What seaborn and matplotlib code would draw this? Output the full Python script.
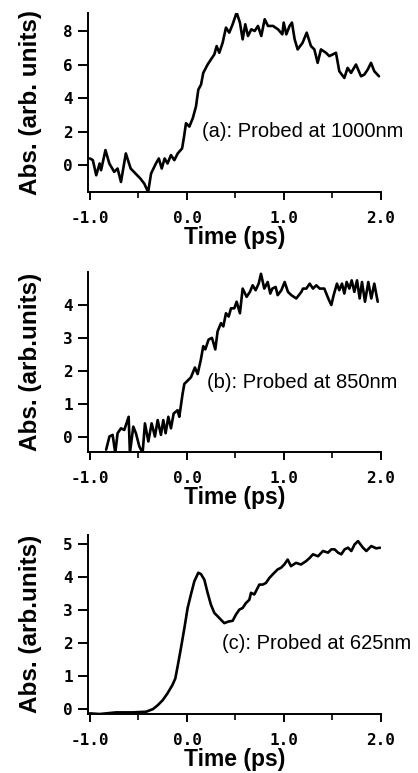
import matplotlib
matplotlib.use("Agg")
import matplotlib.pyplot as plt
import seaborn as sns
from matplotlib.ticker import MultipleLocator, FormatStrFormatter

# panel (a): probed at 1000 nm
time_a = [-1.0, -0.97, -0.935, -0.9, -0.885, -0.84, -0.8, -0.75, -0.715, -0.68,
          -0.63, -0.58, -0.53, -0.48, -0.44, -0.4, -0.37, -0.32, -0.29, -0.26,
          -0.23, -0.2, -0.165, -0.13, -0.095, -0.05, -0.03, -0.01, 0.025, 0.06,
          0.093, 0.117, 0.145, 0.168, 0.213, 0.247, 0.282, 0.306, 0.333, 0.368,
          0.402, 0.436, 0.471, 0.512, 0.546, 0.574, 0.601, 0.629, 0.663, 0.698,
          0.732, 0.766, 0.801, 0.835, 0.887, 0.938, 0.983, 0.997, 1.024, 1.058,
          1.082, 1.11, 1.141, 1.192, 1.234, 1.278, 1.313, 1.347, 1.381, 1.433,
          1.467, 1.502, 1.536, 1.57, 1.622, 1.656, 1.691, 1.742, 1.794, 1.828,
          1.863, 1.897, 1.931, 1.979]
abs_a = [0.4, 0.3, -0.6, 0.1, -0.3, 0.9, 0.1, -0.4, -0.2, -1.0,
         0.7, -0.2, -0.5, -0.8, -1.1, -1.6, -0.5, 0.1, 0.4, -0.2,
         0.4, 0.1, 0.6, 0.3, 0.7, 1.0, 1.7, 2.5, 2.3, 2.8,
         3.5, 4.5, 4.8, 5.5, 6.0, 6.3, 6.6, 7.1, 6.7, 7.3,
         8.2, 7.9, 8.4, 9.1, 8.5, 7.5, 8.4, 7.7, 8.1, 8.0,
         8.3, 7.7, 8.7, 8.3, 8.3, 8.1, 7.8, 8.5, 7.8, 8.3,
         8.5, 7.5, 6.9, 7.3, 7.9, 7.1, 6.9, 6.1, 6.9, 6.7,
         6.5, 6.6, 6.7, 5.6, 5.2, 5.8, 5.5, 6.0, 5.3, 5.4,
         5.7, 6.1, 5.6, 5.3]

# panel (b): probed at 850 nm
time_b = [-0.833, -0.799, -0.766, -0.739, -0.715, -0.68, -0.646, -0.601, -0.588, -0.553,
          -0.526, -0.491, -0.457, -0.433, -0.398, -0.364, -0.33, -0.302, -0.268, -0.244,
          -0.22, -0.192, -0.165, -0.137, -0.096, -0.079, -0.045, -0.027, 0.007, 0.041,
          0.082, 0.110, 0.144, 0.168, 0.189, 0.223, 0.258, 0.292, 0.316, 0.351,
          0.375, 0.402, 0.430, 0.454, 0.488, 0.512, 0.546, 0.574, 0.615, 0.649,
          0.677, 0.708, 0.739, 0.763, 0.797, 0.832, 0.859, 0.880, 0.914, 0.935,
          0.973, 1.007, 1.041, 1.076, 1.127, 1.179, 1.196, 1.230, 1.265, 1.299,
          1.333, 1.368, 1.416, 1.436, 1.464, 1.488, 1.512, 1.546, 1.570, 1.598,
          1.622, 1.646, 1.674, 1.698, 1.725, 1.753, 1.780, 1.804, 1.835, 1.869,
          1.900, 1.931, 1.966]
abs_b = [-0.4, 0.0, 0.05, -0.5, 0.1, 0.25, 0.2, 0.6, -0.5, 0.3,
         0.1, -0.3, -0.5, 0.4, -0.15, 0.4, 0.0, 0.5, 0.05, 0.5,
         0.1, 0.6, 0.25, 0.7, 0.8, 0.6, 1.3, 1.6, 1.7, 1.8,
         2.1, 1.9, 2.35, 2.75, 2.65, 2.95, 3.0, 2.65, 3.2, 3.45,
         3.35, 3.75, 3.65, 3.9, 3.9, 4.1, 3.75, 4.5, 4.25, 4.4,
         4.6, 4.45, 4.65, 4.95, 4.5, 4.7, 4.35, 4.5, 4.55, 4.3,
         4.45, 4.7, 4.4, 4.3, 4.2, 4.4, 4.5, 4.5, 4.65, 4.5,
         4.6, 4.5, 4.5, 4.35, 4.15, 4.0, 4.3, 4.65, 4.45, 4.65,
         4.35, 4.7, 4.5, 4.75, 4.4, 4.75, 4.2, 4.7, 4.1, 4.7,
         4.2, 4.65, 4.1]

# panel (c): probed at 625 nm
time_c = [-1.0, -0.9, -0.73, -0.56, -0.42, -0.35, -0.3, -0.25, -0.2, -0.15,
          -0.12, -0.096, -0.062, -0.027, 0.007, 0.041, 0.076, 0.117, 0.144, 0.179,
          0.213, 0.247, 0.282, 0.316, 0.351, 0.385, 0.43, 0.471, 0.505, 0.54,
          0.574, 0.608, 0.643, 0.66, 0.694, 0.746, 0.78, 0.814, 0.849, 0.9,
          0.935, 0.969, 1.003, 1.038, 1.072, 1.124, 1.175, 1.227, 1.265, 1.299,
          1.351, 1.402, 1.454, 1.488, 1.522, 1.557, 1.591, 1.625, 1.66, 1.694,
          1.728, 1.763, 1.814, 1.849, 1.9, 1.95, 1.99]
abs_c = [-0.13, -0.15, -0.1, -0.1, -0.08, 0.0, 0.12, 0.27, 0.48, 0.73,
         0.93, 1.3, 1.85, 2.45, 3.07, 3.48, 3.88, 4.14, 4.1, 3.93,
         3.53, 3.17, 2.92, 2.82, 2.71, 2.61, 2.66, 2.68, 2.87, 3.02,
         3.07, 3.22, 3.32, 3.53, 3.48, 3.78, 3.78, 3.83, 3.98, 4.14,
         4.24, 4.29, 4.39, 4.54, 4.34, 4.44, 4.39, 4.49, 4.59, 4.7,
         4.64, 4.8, 4.75, 4.85, 4.85, 4.75, 4.7, 4.85, 4.9, 4.8,
         5.0, 5.1, 4.9, 4.8, 4.95, 4.88, 4.9]

panels = [
    (time_a, abs_a, "Abs. (arb. units)", "(a): Probed at 1000nm", (-1.6, 9.1), 2, (0.16, 2.0)),
    (time_b, abs_b, "Abs. (arb.units)", "(b): Probed at 850nm", (-0.47, 4.99), 1, (0.21, 1.63)),
    (time_c, abs_c, "Abs. (arb.units)", "(c): Probed at 625nm", (-0.15, 5.3), 1, (0.36, 2.0)),
]

sns.set_style("ticks")
plt.rcParams.update({"text.color": "black", "axes.labelcolor": "black",
                     "xtick.color": "black", "ytick.color": "black"})
fig = plt.figure(figsize=(4.18, 7.73), dpi=100)
bottoms = [0.7516, 0.4153, 0.0763]

for (t, a, ylab, note, ylim, ystep, pos), b in zip(panels, bottoms):
    ax = fig.add_axes([0.2105, b, 0.701, 0.2322])
    sns.lineplot(x=t, y=a, ax=ax, color="black", lw=1.9)
    ax.set_xlim(-1.02, 2.0)
    ax.set_ylim(*ylim)
    sns.despine(ax=ax)
    for s in ["left", "bottom"]:
        ax.spines[s].set_linewidth(1.4)
        ax.spines[s].set_color("black")
    ax.xaxis.set_major_locator(MultipleLocator(1.0))
    ax.xaxis.set_minor_locator(MultipleLocator(0.5))
    ax.xaxis.set_major_formatter(FormatStrFormatter("%.1f"))
    ax.yaxis.set_major_locator(MultipleLocator(ystep))
    ax.tick_params(axis="x", which="major", direction="out", length=6, width=1.4,
                   labelsize=11.5, pad=7.5)
    ax.tick_params(axis="y", which="major", direction="out", length=7, width=1.4,
                   labelsize=11.5, pad=4)
    ax.tick_params(axis="x", which="minor", direction="out", length=4, width=1.2)
    for lab in ax.get_xticklabels() + ax.get_yticklabels():
        lab.set_fontfamily("DejaVu Sans Mono")
        lab.set_fontweight("bold")
    ax.set_xlabel("Time (ps)", fontsize=16.5, fontweight="bold",
                  fontfamily="Liberation Sans", labelpad=0)
    ax.set_ylabel(ylab, fontsize=17.5, fontweight="bold",
                  fontfamily="Liberation Sans", labelpad=15)
    ax.text(pos[0], pos[1], note, fontsize=14.5, fontfamily="Liberation Sans",
            va="center", ha="left")

fig.savefig("out.png", dpi=100)
